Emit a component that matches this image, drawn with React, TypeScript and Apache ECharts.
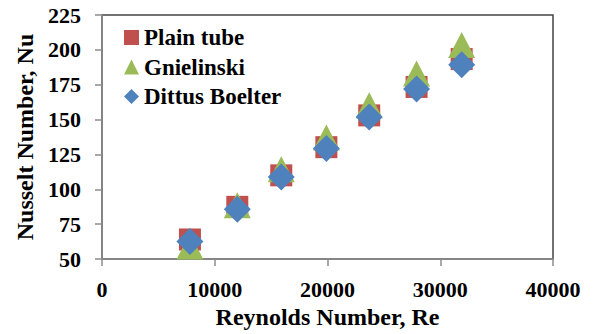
import React, { useEffect, useRef } from "react";
import * as echarts from "echarts";

const reynolds = [7800, 12000, 15900, 19900, 23700, 27900, 31900];
const plainTube = [64, 87.4, 110, 130.2, 153, 173.4, 193.4];
const gnielinski = [59, 88.6, 114.3, 137.1, 160.2, 183.1, 203.4];
const dittusBoelter = [62.6, 85.7, 108.8, 129.3, 151.9, 171.9, 189.3];
const seriesNames = ["Plain tube", "Gnielinski", "Dittus Boelter"];

const FONT = "Liberation Serif";

export default function App() {
  const ref = useRef<HTMLDivElement>(null);
  useEffect(() => {
    document.body.style.margin = "0";
    if (!ref.current) return;
    const chart = echarts.init(ref.current, undefined, { renderer: "svg" });
    const pairs = (ys: number[]) => reynolds.map((x, i) => [x, ys[i]]);
    const tickText = { fontFamily: FONT, fontWeight: "bold", fontSize: 22, color: "#000" };
    const titleText = { fontFamily: FONT, fontWeight: "bold", fontSize: 24, color: "#000" };
    chart.setOption({
      animation: false,
      textStyle: { fontFamily: FONT },
      grid: {
        left: 102,
        top: 15,
        right: 41,
        bottom: 74,
        show: true,
        borderColor: "#444",
        borderWidth: 1.5,
        backgroundColor: "#fff",
      },
      legend: {
        orient: "vertical",
        left: 119,
        top: 21,
        itemWidth: 15,
        itemHeight: 15,
        itemGap: 6.5,
        textStyle: { fontFamily: FONT, fontWeight: "bold", fontSize: 23, color: "#000", lineHeight: 23 },
        data: [
          { name: seriesNames[0], icon: "rect" },
          { name: seriesNames[1], icon: "triangle" },
          { name: seriesNames[2], icon: "diamond" },
        ],
      },
      xAxis: {
        type: "value",
        min: 0,
        max: 40000,
        interval: 10000,
        name: "Reynolds Number, Re",
        nameLocation: "middle",
        nameGap: 46,
        nameTextStyle: titleText,
        axisLine: { show: true, lineStyle: { color: "#8c8c8c", width: 1.5 } },
        axisTick: { show: true, length: 7, lineStyle: { color: "#8c8c8c", width: 1.5 } },
        axisLabel: { ...tickText, margin: 19, formatter: (v: number) => String(v) },
        splitLine: { show: false },
      },
      yAxis: {
        type: "value",
        min: 50,
        max: 225,
        interval: 25,
        name: "Nusselt Number, Nu",
        nameLocation: "middle",
        nameGap: 64,
        nameTextStyle: titleText,
        axisLine: { show: true, lineStyle: { color: "#8c8c8c", width: 1.5 } },
        axisTick: { show: true, length: 7, lineStyle: { color: "#8c8c8c", width: 1.5 } },
        axisLabel: { ...tickText, margin: 21, formatter: (v: number) => String(v) },
        splitLine: { show: false },
      },
      series: [
        {
          name: seriesNames[0],
          type: "scatter",
          symbol: "rect",
          symbolSize: 22,
          itemStyle: { color: "#C0504D", opacity: 1 },
          data: pairs(plainTube),
        },
        {
          name: seriesNames[1],
          type: "scatter",
          symbol: "triangle",
          symbolSize: [27, 26],
          itemStyle: { color: "#9BBB59", opacity: 1 },
          data: pairs(gnielinski),
        },
        {
          name: seriesNames[2],
          type: "scatter",
          symbol: "diamond",
          symbolSize: 27,
          itemStyle: { color: "#4F81BD", opacity: 1 },
          data: pairs(dittusBoelter),
        },
      ],
    });
    return () => chart.dispose();
  }, []);
  return <div ref={ref} style={{ width: 594, height: 334 }} />;
}
